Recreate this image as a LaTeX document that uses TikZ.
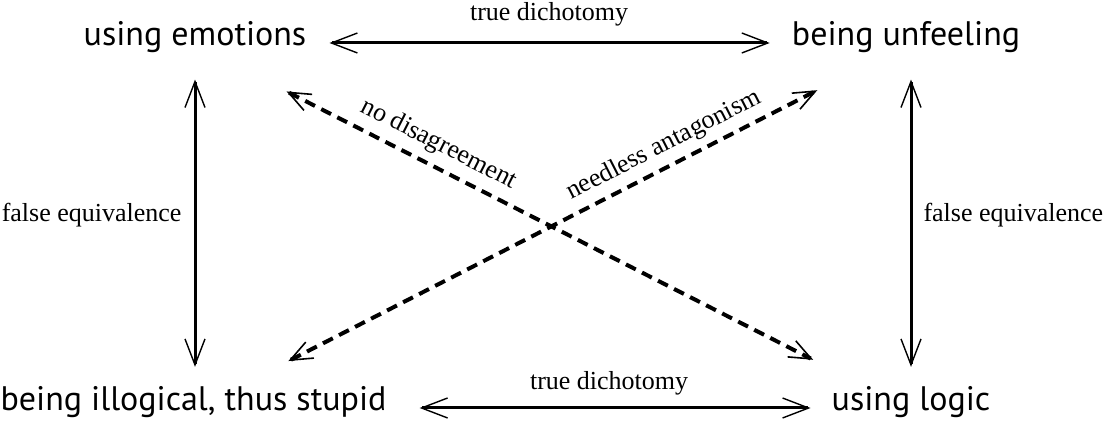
\documentclass[tikz,border=0pt]{standalone}
\usepackage{fontspec}
\usetikzlibrary{arrows.meta}
\newfontfamily\cornerfont{PT Sans}
\newfontfamily\labelfont{Liberation Serif}
\tikzset{
  >={Straight Barb[length=26pt,width=20pt,line width=1.4pt]},
  corner/.style={font=\cornerfont\fontsize{34}{38}\selectfont,inner sep=0pt,anchor=mid},
  lbl/.style={font=\labelfont\fontsize{26}{30}\selectfont,inner sep=0pt},
  link/.style={<->,line width=3pt},
  vague/.style={<->,line width=4pt,dash pattern=on 11pt off 7pt,
    >={Straight Barb[length=22pt,width=18pt,line width=1.6pt]}},
}
\begin{document}
\begin{tikzpicture}[x=1pt,y=1pt]
  \useasboundingbox (0,0) rectangle (1108,425);
  % the four positions
  \node[corner] (emo) at (195,382) {using emotions};
  \node[corner] (unf) at (906,382) {being unfeeling};
  \node[corner] (ill) at (193.5,17) {being illogical, thus stupid};
  \node[corner] (log) at (911,17) {using logic};
  % dichotomies
  \draw[link,shorten <=23pt,shorten >=22pt] (emo.mid east) -- node[lbl,anchor=mid,yshift=25pt]{true dichotomy} (unf.mid west);
  \draw[link,shorten <=33pt,shorten >=21pt] (ill.mid east) -- node[lbl,anchor=mid,yshift=21pt]{true dichotomy} (log.mid west);
  % equivalences
  \draw[link,shorten <=27pt,shorten >=19pt] (emo.south) -- node[lbl,anchor=mid east,xshift=-12pt]{false equivalence} (emo.south |- ill.north);
  \draw[link,shorten <=27pt,shorten >=19pt] (unf.south -| log.north) -- node[lbl,anchor=mid west,xshift=11pt]{false equivalence} (log.north);
  % crossing
  \begin{scope}[transform canvas={yshift=-8pt}]
    \draw[vague,shorten <=68pt,shorten >=75pt] (emo) -- node[lbl,sloped,pos=0.31,above=8pt]{no disagreement} (log);
    \draw[vague,shorten <=72pt,shorten >=65pt] (ill) -- node[lbl,sloped,pos=0.69,above=7pt]{needless antagonism} (unf);
  \end{scope}
\end{tikzpicture}
\end{document}
